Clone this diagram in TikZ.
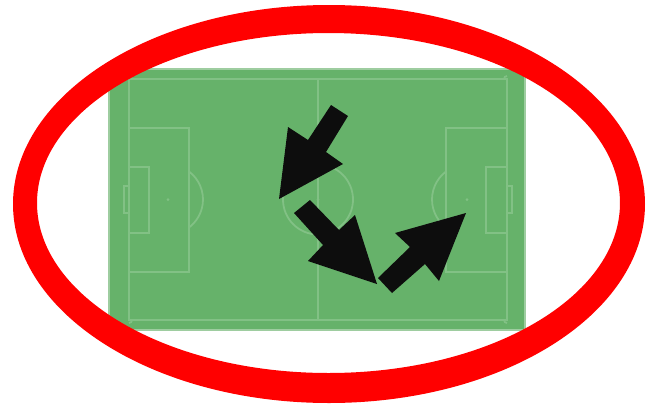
\documentclass[tikz,border=0pt]{standalone}
\begin{document}
\begin{tikzpicture}[x=1pt,y=-1pt,
  pitchline/.style={draw=lineG,line width=1.8pt},
  arrowshape/.style={fill=arrowK,draw=none}]
\definecolor{pitchG}{HTML}{66B26A}
\definecolor{lineG}{HTML}{82C185}
\definecolor{edgeG}{HTML}{9ECDA0}
\definecolor{arrowK}{HTML}{0D0D0D}
\useasboundingbox (0,0) rectangle (649,408);
\fill[white] (0,0) rectangle (649,408);
% pitch
\filldraw[fill=pitchG,draw=edgeG,line width=2pt] (109,69) rectangle (525,330);
\draw[pitchline] (129,79) rectangle (507,320);
\draw[pitchline] (318,79) -- (318,320);
\draw[pitchline] (318,199.5) circle (35);
\fill[lineG] (318,199.5) circle (1.5);
% left end
\draw[pitchline] (129,128) rectangle (189,272);
\draw[pitchline] (129,167) rectangle (149,233);
\draw[pitchline] (129,186) -- (124,186) -- (124,213) -- (129,213);
\fill[lineG] (168,199.5) circle (1.5);
\draw[pitchline] (189,171.5) arc[start angle=-53.1,end angle=53.1,radius=35];
% right end
\draw[pitchline] (446,128) rectangle (507,272);
\draw[pitchline] (486,167) rectangle (507,233);
\draw[pitchline] (507,186) -- (512,186) -- (512,213) -- (507,213);
\fill[lineG] (467,199.5) circle (1.5);
\draw[pitchline] (446,171.5) arc[start angle=233.1,end angle=126.9,radius=35];
% corner arcs
\draw[pitchline] (132,79) arc[start angle=0,end angle=-90,radius=3];
\draw[pitchline] (504,79) arc[start angle=180,end angle=270,radius=3];
\draw[pitchline] (132,320) arc[start angle=0,end angle=90,radius=3];
\draw[pitchline] (504,320) arc[start angle=180,end angle=90,radius=3];
% arrows
\fill[arrowshape] (331,105) -- (348,116) -- (326,152) -- (343,164) -- (279,199) -- (288,127) -- (308,140) -- cycle;
\fill[arrowshape] (310,200) -- (294,213) -- (323,245) -- (308,261) -- (377,284) -- (355,215) -- (339,230) -- cycle;
\fill[arrowshape] (378,278) -- (392,293) -- (425,264) -- (439,281) -- (466,213) -- (395,233) -- (410,247) -- cycle;
% red ellipse ring
\fill[red,even odd rule] (329,204) ellipse[x radius=316,y radius=199]
  (328.5,203) ellipse[x radius=291.5,y radius=170];
\end{tikzpicture}
\end{document}
